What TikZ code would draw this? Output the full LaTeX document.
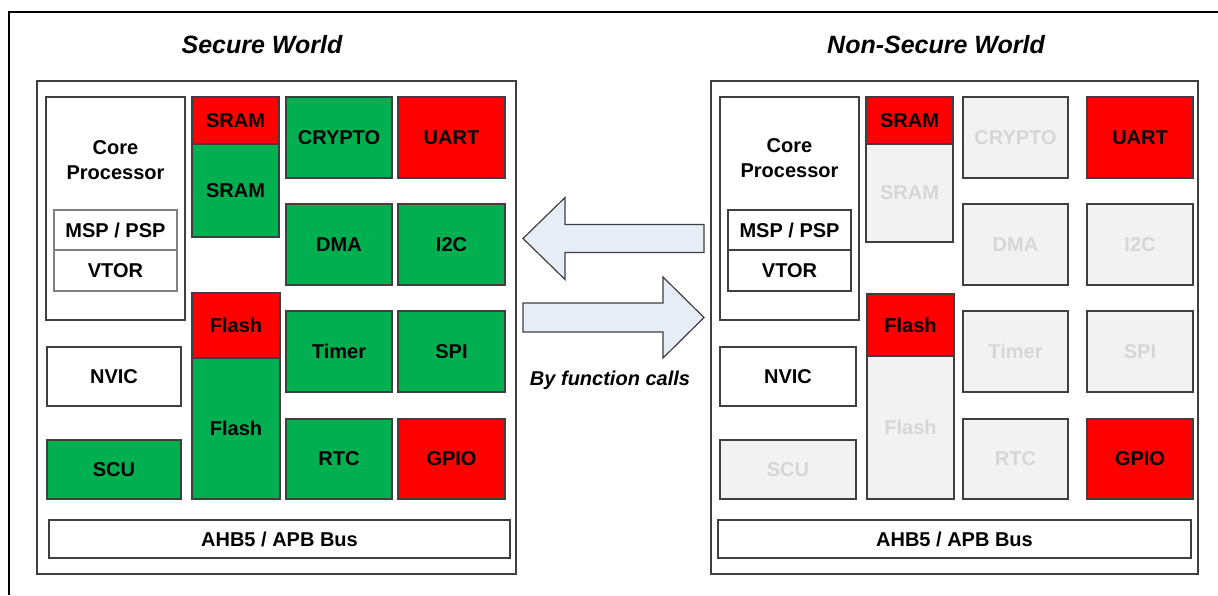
\documentclass[tikz,border=0pt]{standalone}
\usepackage{fontspec}
\setmainfont{Liberation Sans}
\usetikzlibrary{calc}

\definecolor{secgreen}{HTML}{00B050}
\definecolor{secred}{HTML}{FF0000}
\definecolor{offfill}{HTML}{F2F2F2}
\definecolor{offtext}{HTML}{D6D6D6}
\definecolor{edgegrey}{HTML}{3F3F3F}
\definecolor{arrowfill}{HTML}{E6EDF7}

\tikzset{
  blk/.style={draw=edgegrey, line width=0.75pt, inner sep=0pt, shape=rectangle, align=center, font=\fontsize{10}{12.5}\selectfont\bfseries},
  greenblk/.style={blk, fill=secgreen, text=black},
  redblk/.style={blk, fill=secred, text=black},
  offblk/.style={blk, fill=offfill, text=offtext},
  whiteblk/.style={blk, fill=white, text=black},
  regblk/.style={blk, fill=white, text=black, draw=gray},
  panelbox/.style={draw=edgegrey, line width=0.75pt, fill=white, inner sep=0pt, shape=rectangle},
  worldtitle/.style={font=\fontsize{12.5}{15}\selectfont\bfseries\itshape},
  callarrow/.style={draw=edgegrey, line width=0.6pt, fill=arrowfill}
}

\begin{document}
\begin{tikzpicture}[x=0.5pt, y=-0.5pt]

\useasboundingbox (0,0) rectangle (1218,595);

\draw[line width=1pt] (1218,12) -- (9,12) -- (9,595);

\node[worldtitle] (secTitle) at (262,45) {Secure World};
\node[worldtitle] (nsTitle) at (936,45) {Non-Secure World};

\node (secPanel) [panelbox, minimum width=239.5pt, minimum height=246.5pt] at (276.5,327.5) {};
\node (nsPanel) [panelbox, minimum width=243.5pt, minimum height=246.5pt] at (954.5,327.5) {};

\node (secCore) [whiteblk, minimum width=69.5pt, minimum height=111.5pt] at (115.5,208.5) {};
\node[align=center, font=\fontsize{10}{12.5}\selectfont\bfseries] (secCoreText) at (115.5,160.5) {Core\\Processor};
\node (secMsp) [regblk, minimum width=61.5pt, minimum height=20pt] at (115.5,230) {MSP / PSP};
\node (secVtor) [regblk, minimum width=61.5pt, minimum height=20.5pt] at (115.5,270.5) {VTOR};

\node (secSramA) [redblk, minimum width=43.5pt, minimum height=23.5pt] at (235.5,120.5) {SRAM};
\node (secSramB) [greenblk, minimum width=43.5pt, minimum height=46.5pt] at (235.5,190.5) {SRAM};
\node (secFlashA) [redblk, minimum width=44pt, minimum height=32.5pt] at (236,325.5) {Flash};
\node (secFlashB) [greenblk, minimum width=44pt, minimum height=70.5pt] at (236,428.5) {Flash};

\node (secCrypto) [greenblk, minimum width=53pt, minimum height=40.5pt] at (339,137.5) {CRYPTO};
\node (secUart) [redblk, minimum width=53.5pt, minimum height=40.5pt] at (451.5,137.5) {UART};
\node (secDma) [greenblk, minimum width=53pt, minimum height=40.5pt] at (339,244.5) {DMA};
\node (secIic) [greenblk, minimum width=53.5pt, minimum height=40.5pt] at (451.5,244.5) {I2C};
\node (secTimer) [greenblk, minimum width=53pt, minimum height=40.5pt] at (339,351.5) {Timer};
\node (secSpi) [greenblk, minimum width=53.5pt, minimum height=40.5pt] at (451.5,351.5) {SPI};
\node (secRtc) [greenblk, minimum width=53pt, minimum height=40pt] at (339,459) {RTC};
\node (secGpio) [redblk, minimum width=53.5pt, minimum height=40pt] at (451.5,459) {GPIO};

\node (secNvic) [whiteblk, minimum width=67pt, minimum height=29.5pt] at (114,376.5) {NVIC};
\node (secScu) [greenblk, minimum width=67pt, minimum height=29.5pt] at (114,469.5) {SCU};
\node (secBus) [whiteblk, minimum width=230.5pt, minimum height=19pt] at (279.5,539) {AHB5 / APB Bus};

\node (nsCore) [whiteblk, minimum width=69.5pt, minimum height=111.5pt] at (789.5,208.5) {};
\node[align=center, font=\fontsize{10}{12.5}\selectfont\bfseries] (nsCoreText) at (789.5,158.5) {Core\\Processor};
\node (nsMsp) [whiteblk, minimum width=61.5pt, minimum height=20pt] at (789.5,230) {MSP / PSP};
\node (nsVtor) [whiteblk, minimum width=61.5pt, minimum height=20.5pt] at (789.5,270.5) {VTOR};

\node (nsSramA) [redblk, minimum width=43.5pt, minimum height=23.5pt] at (909.5,120.5) {SRAM};
\node (nsSramB) [offblk, minimum width=43.5pt, minimum height=49pt] at (909.5,193) {SRAM};
\node (nsFlashA) [redblk, minimum width=43.5pt, minimum height=31pt] at (910.5,325) {Flash};
\node (nsFlashB) [offblk, minimum width=43.5pt, minimum height=71.5pt] at (910.5,427.5) {Flash};

\node (nsCrypto) [offblk, minimum width=52.5pt, minimum height=40.5pt] at (1015.5,137.5) {CRYPTO};
\node (nsUart) [redblk, minimum width=53pt, minimum height=40.5pt] at (1140,137.5) {UART};
\node (nsDma) [offblk, minimum width=52.5pt, minimum height=40.5pt] at (1015.5,244.5) {DMA};
\node (nsIic) [offblk, minimum width=53pt, minimum height=40.5pt] at (1140,244.5) {I2C};
\node (nsTimer) [offblk, minimum width=52.5pt, minimum height=40.5pt] at (1015.5,351.5) {Timer};
\node (nsSpi) [offblk, minimum width=53pt, minimum height=40.5pt] at (1140,351.5) {SPI};
\node (nsRtc) [offblk, minimum width=52.5pt, minimum height=40pt] at (1015.5,459) {RTC};
\node (nsGpio) [redblk, minimum width=53pt, minimum height=40pt] at (1140,459) {GPIO};

\node (nsNvic) [whiteblk, minimum width=68pt, minimum height=29.5pt] at (788,376.5) {NVIC};
\node (nsScu) [offblk, minimum width=68pt, minimum height=29.5pt] at (788,469.5) {SCU};
\node (nsBus) [whiteblk, minimum width=236.5pt, minimum height=19pt] at (954.5,539) {AHB5 / APB Bus};

\draw[callarrow] (523,238.5) -- (565,197.5) -- (565,224.5) -- (704,224.5) -- (704,252.5) -- (565,252.5) -- (565,279.5) -- cycle;
\draw[callarrow] (704,317.5) -- (663,277) -- (663,303) -- (523,303) -- (523,332) -- (663,332) -- (663,358) -- cycle;

\node[font=\fontsize{10}{12}\selectfont\bfseries\itshape] (callText) at (610,380) {By function calls};

\end{tikzpicture}
\end{document}
